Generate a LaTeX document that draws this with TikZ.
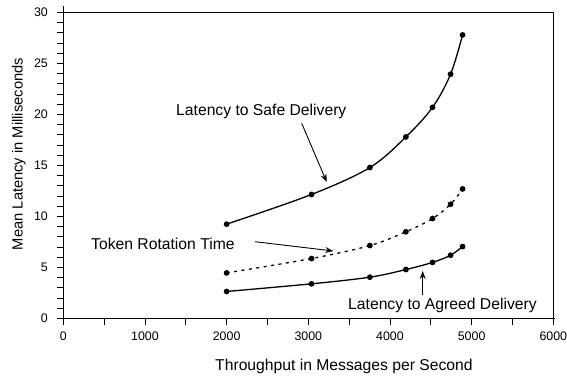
\documentclass[tikz,border=0pt]{standalone}
\usepackage{fontspec}
\setmainfont{Liberation Sans}
\usetikzlibrary{arrows.meta}
\tikzset{
  axisline/.style={line width=0.9pt},
  curveline/.style={line width=1.3pt},
  dotline/.style={line width=1.3pt, dash pattern=on 3pt off 4.5pt},
  datadot/.style={circle, fill=black, inner sep=0pt, minimum size=5.8pt},
  ticklab/.style={font=\fontsize{12.4}{14}\selectfont, inner sep=0pt},
  annot/.style={font=\fontsize{15.7}{18}\selectfont, inner sep=0pt},
  pointer/.style={line width=0.9pt, -{Stealth[length=8pt,width=6pt]}},
}
\begin{document}
\begin{tikzpicture}
\useasboundingbox (0pt,0pt) rectangle (567pt,377pt);
\begin{scope}[shift={(63.3pt,58.5pt)}, x=0.08167pt, y=10.2pt]
  % frame and axes
  \draw[axisline] (0,30.6) -- (0,0) -- (6020,0);
  \draw[axisline] (0,30) -- (6000,30) -- (6000,0);
  \foreach \i in {0,...,30} \draw[axisline] (0,\i) -- ++(-6pt,0);
  \foreach \i in {0,500,...,6000} \draw[axisline] (\i,0) -- ++(0,-6.5pt);
  % tick labels
  \foreach \i in {0,5,...,30} \node[ticklab, anchor=east] (yl\i) at ([xshift=-15.3pt]0,\i) {\i};
  \foreach \i in {0,1000,...,6000} \node[ticklab] (xl\i) at ([yshift=-18.2pt]\i,0) {\i};
  % curves
  \draw[curveline] plot[smooth, tension=0.55] coordinates {(2000,9.25) (3040,12.16) (3754,14.8) (4195,17.8) (4521,20.7) (4742,23.95) (4889,27.8)};
  \draw[dotline] plot[smooth, tension=0.55] coordinates {(2000,4.47) (3040,5.88) (3754,7.15) (4195,8.5) (4521,9.8) (4742,11.2) (4889,12.7)};
  \draw[curveline] plot[smooth, tension=0.55] coordinates {(2000,2.65) (3040,3.4) (3754,4.05) (4195,4.8) (4521,5.5) (4742,6.2) (4889,7.05)};
  % data points
  \foreach \x/\y [count=\k] in {2000/9.25,3040/12.16,3754/14.8,4195/17.8,4521/20.7,4742/23.95,4889/27.8}
    \node[datadot] (s\k) at (\x,\y) {};
  \foreach \x/\y [count=\k] in {2000/4.47,3040/5.88,3754/7.15,4195/8.5,4521/9.8,4742/11.2,4889/12.7}
    \node[datadot] (t\k) at (\x,\y) {};
  \foreach \x/\y [count=\k] in {2000/2.65,3040/3.4,3754/4.05,4195/4.8,4521/5.5,4742/6.2,4889/7.05}
    \node[datadot] (a\k) at (\x,\y) {};
\end{scope}
% axis titles
\node[annot, anchor=base west] (xtitle) at (215pt,6.3pt) {Throughput in Messages per Second};
\node[font=\fontsize{14.7}{17}\selectfont, inner sep=0pt, rotate=90] (ytitle) at (18.7pt,223pt) {Mean Latency in Milliseconds};
% annotations
\node[annot, anchor=base west] (safe) at (176pt,261pt) {Latency to Safe Delivery};
\node[annot, anchor=base west] (token) at (91pt,127.7pt) {Token Rotation Time};
\node[annot, anchor=base west] (agreed) at (348pt,67pt) {Latency to Agreed Delivery};
\coordinate (safeA) at (301.7pt,253.7pt);
\coordinate (safeB) at (326.7pt,195pt);
\coordinate (tokA) at (255pt,135.3pt);
\coordinate (tokB) at (333.3pt,126pt);
\coordinate (agA) at (422.7pt,82pt);
\coordinate (agB) at (422.7pt,106pt);
\draw[pointer] (safeA) -- (safeB);
\draw[pointer] (tokA) -- (tokB);
\draw[pointer] (agA) -- (agB);
\end{tikzpicture}
\end{document}
